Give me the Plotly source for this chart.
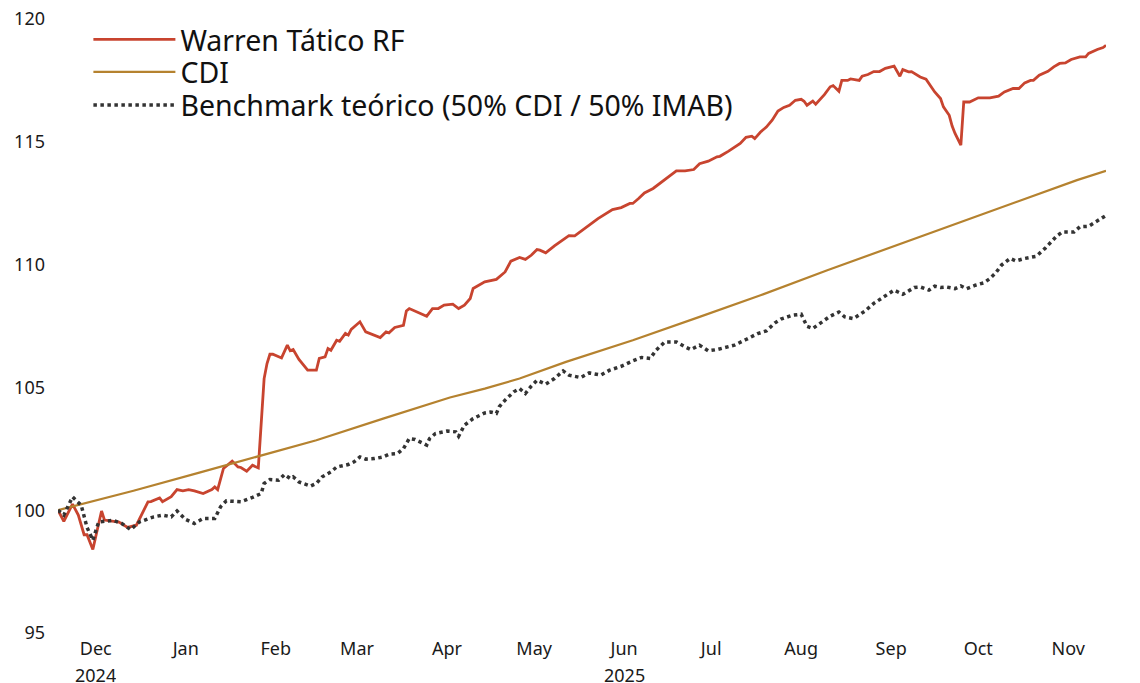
import plotly.graph_objects as go

# ---------------- data ----------------
warren_dates = [
    "2024-11-18", "2024-11-20", "2024-11-23", "2024-11-25", "2024-11-27", "2024-11-28", "2024-11-30",
    "2024-12-03", "2024-12-04", "2024-12-06", "2024-12-09", "2024-12-12", "2024-12-15", "2024-12-19",
    "2024-12-20", "2024-12-23", "2024-12-24", "2024-12-27", "2024-12-29", "2024-12-31", "2025-01-02",
    "2025-01-04", "2025-01-07", "2025-01-10", "2025-01-11", "2025-01-12", "2025-01-14", "2025-01-17",
    "2025-01-19", "2025-01-20", "2025-01-22", "2025-01-24", "2025-01-26", "2025-01-28", "2025-01-29",
    "2025-01-30", "2025-01-31", "2025-02-03", "2025-02-05", "2025-02-06", "2025-02-07", "2025-02-09",
    "2025-02-10", "2025-02-12", "2025-02-15", "2025-02-16", "2025-02-18", "2025-02-19", "2025-02-20",
    "2025-02-22", "2025-02-23", "2025-02-25", "2025-02-26", "2025-02-27", "2025-03-02", "2025-03-04",
    "2025-03-09", "2025-03-11", "2025-03-12", "2025-03-14", "2025-03-17", "2025-03-18", "2025-03-19",
    "2025-03-25", "2025-03-27", "2025-03-29", "2025-03-31", "2025-04-03", "2025-04-05", "2025-04-07",
    "2025-04-09", "2025-04-10", "2025-04-14", "2025-04-16", "2025-04-18", "2025-04-21", "2025-04-23",
    "2025-04-26", "2025-04-28", "2025-04-30", "2025-05-02", "2025-05-03", "2025-05-05", "2025-05-08",
    "2025-05-11", "2025-05-13", "2025-05-15", "2025-05-20", "2025-05-23", "2025-05-28", "2025-05-31",
    "2025-06-03", "2025-06-04", "2025-06-06", "2025-06-08", "2025-06-11", "2025-06-14", "2025-06-19",
    "2025-06-22", "2025-06-25", "2025-06-27", "2025-06-30", "2025-07-03", "2025-07-04", "2025-07-07",
    "2025-07-09", "2025-07-11", "2025-07-13", "2025-07-15", "2025-07-16", "2025-07-18", "2025-07-20",
    "2025-07-22", "2025-07-24", "2025-07-26", "2025-07-28", "2025-07-30", "2025-08-01", "2025-08-02",
    "2025-08-03", "2025-08-05", "2025-08-06", "2025-08-08", "2025-08-09", "2025-08-11", "2025-08-12",
    "2025-08-14", "2025-08-15", "2025-08-17", "2025-08-18", "2025-08-21", "2025-08-22", "2025-08-24",
    "2025-08-26", "2025-08-28", "2025-08-30", "2025-09-02", "2025-09-04", "2025-09-05", "2025-09-07",
    "2025-09-08", "2025-09-11", "2025-09-13", "2025-09-16", "2025-09-18", "2025-09-19", "2025-09-21",
    "2025-09-22", "2025-09-23", "2025-09-25", "2025-09-26", "2025-09-28", "2025-10-01", "2025-10-05",
    "2025-10-08", "2025-10-10", "2025-10-13", "2025-10-15", "2025-10-17", "2025-10-19", "2025-10-20",
    "2025-10-22", "2025-10-25", "2025-10-27", "2025-10-29", "2025-10-31", "2025-11-02", "2025-11-05",
    "2025-11-07", "2025-11-08", "2025-11-11", "2025-11-13", "2025-11-14",
]
warren_values = [
    100.0, 99.55, 100.25, 99.8, 99.0, 99.0, 98.4,
    99.97, 99.6, 99.56, 99.52, 99.3, 99.39, 100.34,
    100.35, 100.5, 100.35, 100.55, 100.84, 100.79, 100.84,
    100.79, 100.68, 100.84, 100.95, 100.84, 101.7, 102.0,
    101.76, 101.74, 101.59, 101.83, 101.72, 105.36, 105.97,
    106.35, 106.35, 106.2, 106.72, 106.49, 106.54, 106.14,
    106.0, 105.7, 105.7, 106.18, 106.24, 106.58, 106.51,
    106.92, 106.88, 107.2, 107.13, 107.36, 107.67, 107.26,
    107.03, 107.26, 107.22, 107.44, 107.53, 108.11, 108.21,
    107.9, 108.21, 108.21, 108.35, 108.39, 108.21, 108.35,
    108.62, 109.03, 109.3, 109.36, 109.4, 109.7, 110.14,
    110.29, 110.21, 110.38, 110.61, 110.59, 110.48, 110.76,
    111.02, 111.18, 111.17, 111.6, 111.87, 112.24, 112.32,
    112.49, 112.49, 112.69, 112.92, 113.1, 113.37, 113.82,
    113.82, 113.87, 114.11, 114.21, 114.39, 114.41, 114.62,
    114.79, 114.93, 115.18, 115.23, 115.13, 115.4, 115.6,
    115.88, 116.25, 116.4, 116.49, 116.69, 116.73, 116.65,
    116.49, 116.66, 116.53, 116.8, 116.92, 117.24, 117.29,
    117.06, 117.5, 117.5, 117.56, 117.5, 117.67, 117.74,
    117.86, 117.86, 117.99, 118.08, 117.67, 117.94, 117.85,
    117.86, 117.64, 117.55, 117.03, 116.76, 116.42, 116.08,
    115.64, 115.34, 114.86, 116.62, 116.62, 116.79, 116.79,
    116.86, 117.03, 117.17, 117.17, 117.4, 117.5, 117.5,
    117.71, 117.87, 118.05, 118.19, 118.21, 118.35, 118.46,
    118.46, 118.6, 118.76, 118.84, 118.93,
]

cdi_dates = [
    "2024-11-18", "2024-12-08", "2024-12-14", "2025-01-06", "2025-01-27", "2025-02-15", "2025-03-10",
    "2025-04-02", "2025-04-14", "2025-04-26", "2025-05-12", "2025-06-04", "2025-06-27", "2025-07-18",
    "2025-08-10", "2025-09-02", "2025-09-25", "2025-10-18", "2025-11-04", "2025-11-14",
]
cdi_values = [
    100.0, 100.6, 100.79, 101.54, 102.24, 102.85, 103.73,
    104.59, 104.95, 105.36, 106.04, 106.92, 107.87, 108.75,
    109.77, 110.75, 111.74, 112.73, 113.44, 113.82,
]

bench_dates = [
    "2024-11-18", "2024-11-20", "2024-11-23", "2024-11-26", "2024-11-28", "2024-11-30", "2024-12-02",
    "2024-12-07", "2024-12-10", "2024-12-13", "2024-12-16", "2024-12-21", "2024-12-24", "2024-12-27",
    "2024-12-29", "2025-01-01", "2025-01-04", "2025-01-07", "2025-01-11", "2025-01-13", "2025-01-15",
    "2025-01-20", "2025-01-24", "2025-01-27", "2025-01-28", "2025-01-30", "2025-02-02", "2025-02-04",
    "2025-02-06", "2025-02-07", "2025-02-09", "2025-02-13", "2025-02-15", "2025-02-17", "2025-02-20",
    "2025-02-22", "2025-02-26", "2025-02-28", "2025-03-02", "2025-03-04", "2025-03-07", "2025-03-10",
    "2025-03-12", "2025-03-15", "2025-03-17", "2025-03-19", "2025-03-21", "2025-03-25", "2025-03-26",
    "2025-03-28", "2025-04-01", "2025-04-04", "2025-04-05", "2025-04-07", "2025-04-10", "2025-04-14",
    "2025-04-16", "2025-04-18", "2025-04-19", "2025-04-21", "2025-04-24", "2025-04-26", "2025-04-28",
    "2025-04-30", "2025-05-02", "2025-05-05", "2025-05-08", "2025-05-11", "2025-05-13", "2025-05-17",
    "2025-05-20", "2025-05-24", "2025-05-27", "2025-05-31", "2025-06-04", "2025-06-07", "2025-06-10",
    "2025-06-12", "2025-06-15", "2025-06-19", "2025-06-22", "2025-06-24", "2025-06-27", "2025-06-30",
    "2025-07-03", "2025-07-09", "2025-07-13", "2025-07-17", "2025-07-20", "2025-07-23", "2025-07-25",
    "2025-07-29", "2025-08-01", "2025-08-03", "2025-08-05", "2025-08-08", "2025-08-11", "2025-08-14",
    "2025-08-16", "2025-08-19", "2025-08-23", "2025-08-26", "2025-08-30", "2025-09-02", "2025-09-05",
    "2025-09-09", "2025-09-11", "2025-09-14", "2025-09-16", "2025-09-18", "2025-09-20", "2025-09-23",
    "2025-09-25", "2025-09-27", "2025-09-30", "2025-10-03", "2025-10-05", "2025-10-07", "2025-10-09",
    "2025-10-12", "2025-10-14", "2025-10-17", "2025-10-21", "2025-10-24", "2025-10-28", "2025-10-30",
    "2025-11-03", "2025-11-05", "2025-11-08", "2025-11-11", "2025-11-13", "2025-11-14",
]
bench_values = [
    100.0, 99.8, 100.54, 100.2, 99.3, 98.78, 99.52,
    99.59, 99.46, 99.21, 99.52, 99.73, 99.8, 99.73,
    99.97, 99.62, 99.46, 99.66, 99.66, 100.14, 100.38,
    100.34, 100.52, 100.68, 101.09, 101.25, 101.22, 101.45,
    101.29, 101.36, 101.15, 100.98, 101.09, 101.36, 101.56,
    101.76, 101.86, 101.97, 102.17, 102.08, 102.1, 102.17,
    102.28, 102.31, 102.51, 102.92, 102.88, 102.65, 102.92,
    103.12, 103.22, 103.19, 103.01, 103.46, 103.73, 103.96,
    104.0, 103.94, 104.21, 104.48, 104.82, 104.95, 104.75,
    105.05, 105.29, 105.13, 105.36, 105.67, 105.5, 105.4,
    105.59, 105.5, 105.7, 105.86, 106.08, 106.22, 106.18,
    106.51, 106.85, 106.85, 106.65, 106.54, 106.72, 106.49,
    106.54, 106.72, 106.95, 107.19, 107.3, 107.63, 107.78,
    107.94, 107.98, 107.49, 107.4, 107.63, 107.9, 108.07,
    107.87, 107.8, 108.11, 108.42, 108.75, 108.96, 108.79,
    109.07, 109.09, 108.96, 109.12, 109.07, 109.09, 109.02,
    109.13, 109.02, 109.16, 109.26, 109.43, 109.66, 109.98,
    110.25, 110.15, 110.25, 110.34, 110.66, 111.16, 111.33,
    111.33, 111.54, 111.56, 111.8, 111.95, 112.0,
]

series_names = ["Warren Tático RF", "CDI", "Benchmark teórico (50% CDI / 50% IMAB)"]

month_tick_dates = [
    "2024-12-01", "2025-01-01", "2025-02-01", "2025-03-01", "2025-04-01", "2025-05-01",
    "2025-06-01", "2025-07-01", "2025-08-01", "2025-09-01", "2025-10-01", "2025-11-01",
]
month_tick_labels = ["Dec", "Jan", "Feb", "Mar", "Apr", "May", "Jun", "Jul", "Aug", "Sep", "Oct", "Nov"]
year_label_dates = ["2024-12-01", "2025-06-01"]
year_labels = ["2024", "2025"]
y_ticks = [95, 100, 105, 110, 115, 120]

# ---------------- figure ----------------
FONT = "Noto Sans, Open Sans, sans-serif"
TXT = "#1a1a1a"

fig = go.Figure()
fig.add_trace(go.Scatter(x=warren_dates, y=warren_values, mode="lines", name=series_names[0],
                         line=dict(color="#C8442F", width=2.8), legend="legend"))
fig.add_trace(go.Scatter(x=cdi_dates, y=cdi_values, mode="lines", name=series_names[1],
                         line=dict(color="#B5822F", width=2.2), legend="legend2"))
fig.add_trace(go.Scatter(x=bench_dates, y=bench_values, mode="lines", name=series_names[2],
                         line=dict(color="#333333", width=3.5, dash="dot"), legend="legend3"))

for d, t in zip(year_label_dates, year_labels):
    fig.add_annotation(x=d, y=0, xref="x", yref="paper", yshift=-42, text=t, showarrow=False,
                       font=dict(family=FONT, size=18, color=TXT), yanchor="middle", height=18)

legend_common = dict(x=0.029, xanchor="left", yanchor="middle", bgcolor="rgba(0,0,0,0)",
                     font=dict(family=FONT, size=28.5, color="#111111"), itemwidth=82,
                     borderwidth=0)

fig.update_layout(
    width=1140, height=683,
    margin=dict(l=58, r=34, t=19, b=50, autoexpand=False),
    paper_bgcolor="white", plot_bgcolor="white",
    font=dict(family=FONT, size=18, color=TXT),
    showlegend=True,
    legend=dict(y=0.966, **legend_common),
    legend2=dict(y=0.913, **legend_common),
    legend3=dict(y=0.859, **legend_common),
    xaxis=dict(type="date", range=[warren_dates[0], warren_dates[-1]], showgrid=False, zeroline=False,
               showline=False, ticks="", tickmode="array", tickvals=month_tick_dates,
               ticktext=month_tick_labels, tickfont=dict(size=18), ticklabelstandoff=3,
               automargin=False),
    yaxis=dict(range=[95, 120], showgrid=False, zeroline=False, showline=False, ticks="",
               tickmode="array", tickvals=y_ticks, tickfont=dict(size=18), ticklabelstandoff=12,
               automargin=False),
)

fig.write_html("out.html", config={"displayModeBar": False},
               post_script="document.body.style.margin='0px';document.body.style.overflow='hidden';")
